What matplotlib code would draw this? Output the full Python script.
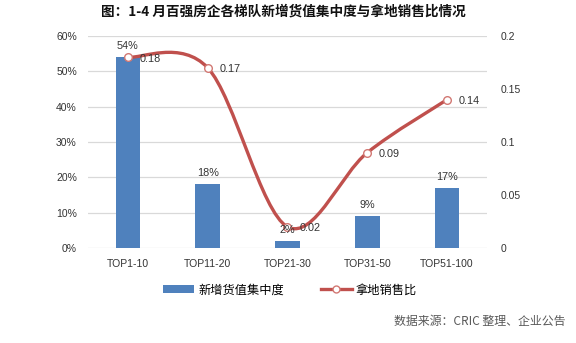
import numpy as np
import matplotlib
matplotlib.use("Agg")
import matplotlib.pyplot as plt
from matplotlib.path import Path
from matplotlib.patches import PathPatch
from matplotlib.lines import Line2D
from matplotlib.patches import Patch

plt.rcParams['font.family'] = ['Liberation Sans', 'Noto Sans CJK SC', 'DejaVu Sans']

categories = ["TOP1-10", "TOP11-20", "TOP21-30", "TOP31-50", "TOP51-100"]
concentration = [54, 18, 2, 9, 17]          # 新增货值集中度 (%)
land_sales_ratio = [0.18, 0.17, 0.02, 0.09, 0.14]  # 拿地销售比
left_ticks = [0, 10, 20, 30, 40, 50, 60]
right_ticks = [0, 0.05, 0.1, 0.15, 0.2]

BAR_C = "#4f81bd"
LINE_C = "#c0504d"
MARK_C = "#d27873"
GRID_C = "#d9d9d9"
TXT_C = "#333333"

fig = plt.figure(figsize=(5.76, 3.43), dpi=100)
ax = fig.add_axes([88 / 576, 1 - 248 / 343, 399 / 576, 212 / 343])
ax2 = ax.twinx()

x = np.arange(len(categories))
ax.bar(x, concentration, width=0.31, color=BAR_C, zorder=2)
ax.set_xlim(-0.5, len(categories) - 0.5)
ax.set_ylim(0, 60)
ax.set_yticks(left_ticks)
ax.set_yticklabels([f"{t}%" for t in left_ticks])
ax.set_xticks(x)
ax.set_xticklabels(categories)
ax.grid(axis='y', color=GRID_C, linewidth=0.9, zorder=0)
ax.set_axisbelow(True)
for s in ax.spines.values():
    s.set_visible(False)
for s in ax2.spines.values():
    s.set_visible(False)
ax.tick_params(axis='both', length=0, labelsize=7.5, colors=TXT_C)
ax.tick_params(axis='y', pad=8)
ax.tick_params(axis='x', pad=8)

# smoothed line (Bezier through the points, Excel-style)
ax2.set_ylim(0, 0.2)
ax2.set_yticks(right_ticks)
ax2.set_yticklabels(["0", "0.05", "0.1", "0.15", "0.2"])
ax2.tick_params(axis='y', length=0, labelsize=7.5, colors=TXT_C, pad=10)

pts = np.column_stack([x, land_sales_ratio]).astype(float)
# scale y so that tangents are computed in a roughly isotropic space
sy = 1.0 / 0.2 * (212 / 80.0)
P = pts * np.array([1.0, sy])
verts = [tuple(pts[0])]
codes = [Path.MOVETO]
n = len(P)
for i in range(n - 1):
    p0 = P[i - 1] if i > 0 else P[i]
    p1 = P[i]
    p2 = P[i + 1]
    p3 = P[i + 2] if i + 2 < n else P[i + 1]
    c1 = p1 + (p2 - p0) / 6.0
    c2 = p2 - (p3 - p1) / 6.0
    for c in (c1, c2, p2):
        verts.append((c[0], c[1] / sy))
        codes.append(Path.CURVE4)
ax2.add_patch(PathPatch(Path(verts, codes), facecolor='none', edgecolor=LINE_C,
                        linewidth=2.4, zorder=3))
ax2.plot(x, land_sales_ratio, linestyle='none', marker='o', markersize=5.5,
         markerfacecolor='white', markeredgecolor=MARK_C, markeredgewidth=1.0, zorder=4)
for xi, v in zip(x, land_sales_ratio):
    ax2.annotate(f"{v:.2f}", (xi, v), xytext=(8.5, -1), textcoords='offset points',
                 ha='left', va='center', fontsize=7.8, color=TXT_C, zorder=5)

# bar value labels sit above the line
for xi, v in zip(x, concentration):
    ax2.annotate(f"{v}%", (xi, v), xycoords=ax.transData, xytext=(0, 4.5),
                 textcoords='offset points', ha='center', va='bottom',
                 fontsize=7.8, color=TXT_C, zorder=6)

fig.text(283 / 576, 1 - 12 / 343, "图：1-4 月百强房企各梯队新增货值集中度与拿地销售比情况",
         ha='center', va='center', fontsize=9.8, fontweight='bold', color='#111111',
         family=['Noto Sans CJK SC', 'DejaVu Sans'])

handles = [Patch(facecolor=BAR_C, edgecolor='none'),
           Line2D([0], [0], color=LINE_C, linewidth=2.4, marker='o', markersize=5,
                  markerfacecolor='white', markeredgecolor=MARK_C)]
fig.legend(handles, ["新增货值集中度", "拿地销售比"], loc='center',
           bbox_to_anchor=(290 / 576, 1 - 290 / 343), ncol=2, frameon=False,
           handlelength=2.6, handleheight=0.6, columnspacing=3.0,
           handletextpad=0.3, prop={'family': ['Noto Sans CJK SC', 'DejaVu Sans'], 'size': 8.8})

fig.text(565 / 576, 1 - 321 / 343, "数据来源：CRIC 整理、企业公告", ha='right', va='center',
         fontsize=8.6, color='#595959', family=['Noto Sans CJK SC', 'DejaVu Sans'])

fig.savefig("out.png", dpi=100)
